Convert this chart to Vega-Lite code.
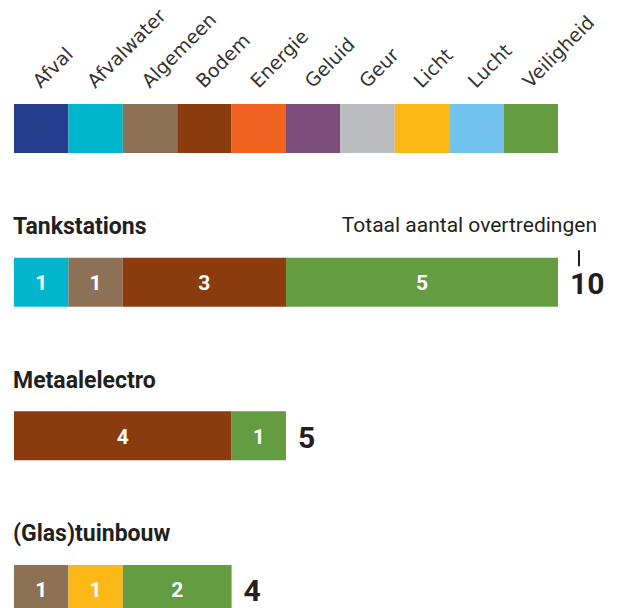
{
  "$schema": "https://vega.github.io/schema/vega-lite/v6.json",
  "width": 617,
  "height": 608,
  "autosize": {"type": "none"},
  "padding": 0,
  "background": "white",
  "config": {"view": {"stroke": null}},
  "datasets": {
    "legend": [
      {"sector": "Legenda", "cat": "Afval", "n": 1},
      {"sector": "Legenda", "cat": "Afvalwater", "n": 1},
      {"sector": "Legenda", "cat": "Algemeen", "n": 1},
      {"sector": "Legenda", "cat": "Bodem", "n": 1},
      {"sector": "Legenda", "cat": "Energie", "n": 1},
      {"sector": "Legenda", "cat": "Geluid", "n": 1},
      {"sector": "Legenda", "cat": "Geur", "n": 1},
      {"sector": "Legenda", "cat": "Licht", "n": 1},
      {"sector": "Legenda", "cat": "Lucht", "n": 1},
      {"sector": "Legenda", "cat": "Veiligheid", "n": 1}
    ],
    "bars": [
      {"sector": "Tankstations", "cat": "Afvalwater", "n": 1},
      {"sector": "Tankstations", "cat": "Algemeen", "n": 1},
      {"sector": "Tankstations", "cat": "Bodem", "n": 3},
      {"sector": "Tankstations", "cat": "Veiligheid", "n": 5},
      {"sector": "Metaalelectro", "cat": "Bodem", "n": 4},
      {"sector": "Metaalelectro", "cat": "Veiligheid", "n": 1},
      {"sector": "(Glas)tuinbouw", "cat": "Algemeen", "n": 1},
      {"sector": "(Glas)tuinbouw", "cat": "Licht", "n": 1},
      {"sector": "(Glas)tuinbouw", "cat": "Veiligheid", "n": 2}
    ],
    "notes": [
      {"sector": "Tankstations", "label": "Totaal aantal overtredingen", "total": 10}
    ]
  },
  "layer": [
    {
      "data": {"name": "legend"},
      "transform": [
        {"stack": "n", "groupby": ["sector"], "sort": [{"field": "cat"}], "as": ["x0", "x1"]}
      ],
      "mark": {"type": "bar"},
      "encoding": {
        "x": {"field": "x0", "type": "quantitative", "axis": null,
              "scale": {"domain": [0, 10], "range": [14, 558], "nice": false, "zero": false}},
        "x2": {"field": "x1"},
        "y": {"field": "sector", "type": "nominal", "axis": null,
              "scale": {"type": "band", "domain": ["Legenda", "Tankstations", "Metaalelectro", "(Glas)tuinbouw"],
                        "range": [104, 614], "paddingInner": 0.6811, "paddingOuter": 0}},
        "color": {"field": "cat", "type": "nominal", "legend": null,
                  "scale": {"domain": ["Afval", "Afvalwater", "Algemeen", "Bodem", "Energie", "Geluid", "Geur", "Licht", "Lucht", "Veiligheid"],
                            "range": ["#253d8c", "#00b5cc", "#8d7157", "#8b3c0f", "#f26322", "#7d4e7b", "#bbbcc0", "#fcb817", "#71c2ec", "#649c41"]}}
      }
    },
    {
      "data": {"name": "legend"},
      "transform": [
        {"stack": "n", "groupby": ["sector"], "sort": [{"field": "cat"}], "as": ["x0", "x1"]}
      ],
      "mark": {"type": "text", "angle": -45, "align": "left", "baseline": "alphabetic",
               "dx": 47, "dy": -9, "font": "DejaVu Sans", "fontSize": 19, "color": "#333333"},
      "encoding": {
        "x": {"field": "x0", "type": "quantitative"},
        "y": {"field": "sector", "type": "nominal"},
        "text": {"field": "cat"}
      }
    },
    {
      "data": {"name": "bars"},
      "transform": [
        {"stack": "n", "groupby": ["sector"], "sort": [{"field": "cat"}], "as": ["x0", "x1"]}
      ],
      "mark": {"type": "bar"},
      "encoding": {
        "x": {"field": "x0", "type": "quantitative"},
        "x2": {"field": "x1"},
        "y": {"field": "sector", "type": "nominal"},
        "color": {"field": "cat", "type": "nominal"}
      }
    },
    {
      "data": {"name": "bars"},
      "transform": [
        {"stack": "n", "groupby": ["sector"], "sort": [{"field": "cat"}], "as": ["x0", "x1"]},
        {"calculate": "(datum.x0 + datum.x1) / 2", "as": "mid"}
      ],
      "mark": {"type": "text", "align": "center", "baseline": "middle", "dy": 2,
               "font": "Roboto", "fontWeight": "bold", "fontSize": 21, "color": "white"},
      "encoding": {
        "x": {"field": "mid", "type": "quantitative"},
        "y": {"field": "sector", "type": "nominal"},
        "text": {"field": "n"}
      }
    },
    {
      "data": {"name": "bars"},
      "transform": [
        {"aggregate": [{"op": "sum", "field": "n", "as": "total"}], "groupby": ["sector"]}
      ],
      "mark": {"type": "text", "align": "left", "baseline": "alphabetic", "dx": -1, "dy": -48,
               "font": "Roboto", "fontWeight": "bold", "fontSize": 23, "color": "#231f20"},
      "encoding": {
        "x": {"datum": 0, "type": "quantitative"},
        "y": {"field": "sector", "type": "nominal"},
        "text": {"field": "sector"}
      }
    },
    {
      "data": {"name": "bars"},
      "transform": [
        {"aggregate": [{"op": "sum", "field": "n", "as": "total"}], "groupby": ["sector"]}
      ],
      "mark": {"type": "text", "align": "left", "baseline": "middle", "dx": 12, "dy": 3,
               "font": "Roboto", "fontWeight": "bold", "fontSize": 30, "color": "#231f20"},
      "encoding": {
        "x": {"field": "total", "type": "quantitative"},
        "y": {"field": "sector", "type": "nominal"},
        "text": {"field": "total"}
      }
    },
    {
      "data": {"name": "notes"},
      "mark": {"type": "text", "align": "right", "baseline": "alphabetic", "dx": 39, "dy": -50,
               "font": "Roboto", "fontSize": 21, "color": "#231f20"},
      "encoding": {
        "x": {"field": "total", "type": "quantitative"},
        "y": {"field": "sector", "type": "nominal"},
        "text": {"field": "label"}
      }
    },
    {
      "data": {"name": "notes"},
      "mark": {"type": "tick", "orient": "vertical", "color": "#231f20", "opacity": 1, "thickness": 2, "size": 16,
               "xOffset": 21, "yOffset": -24},
      "encoding": {
        "x": {"field": "total", "type": "quantitative"},
        "y": {"field": "sector", "type": "nominal"}
      }
    }
  ]
}
